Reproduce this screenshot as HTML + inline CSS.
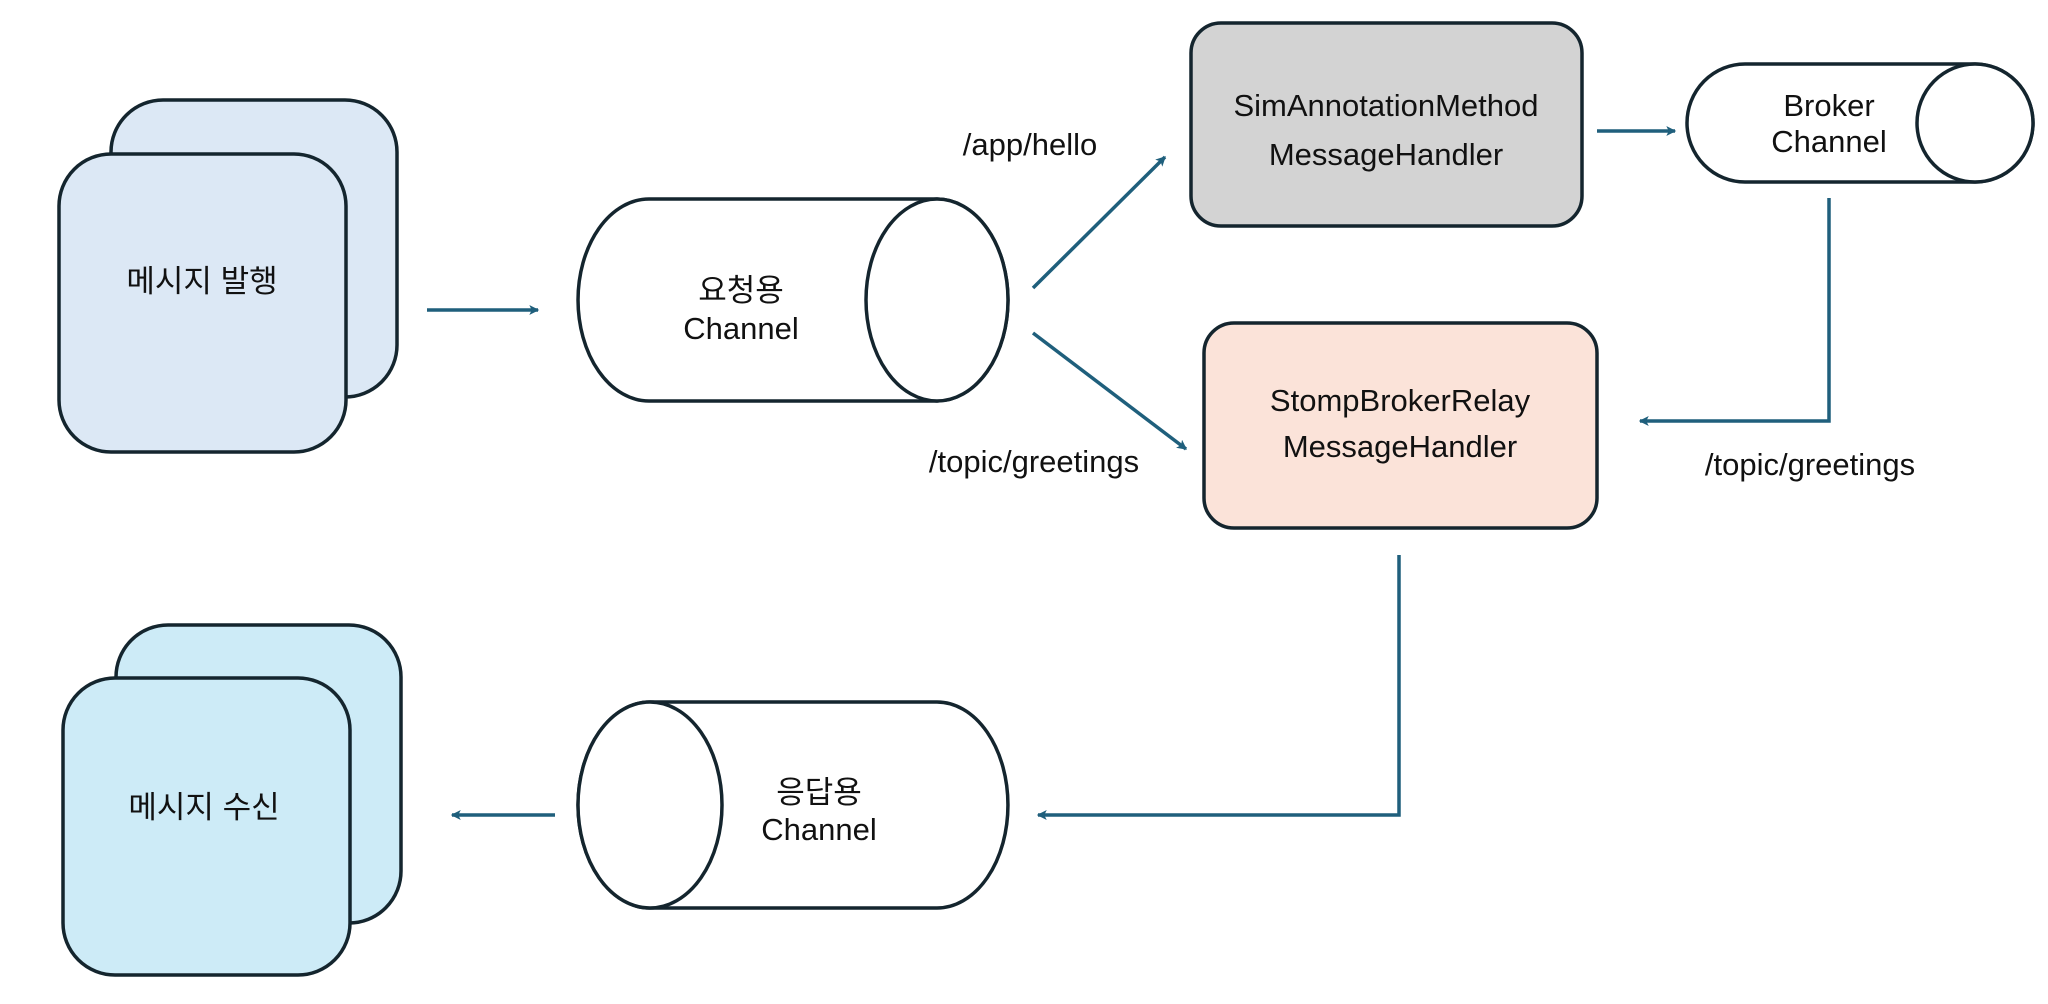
<!DOCTYPE html>
<html><head><meta charset="utf-8"><style>
html,body{margin:0;padding:0;background:#fff;}
svg{display:block;}
text{font-family:"Liberation Sans","Noto Sans CJK KR",sans-serif;font-size:31px;fill:#111;}
</style></head><body>
<svg width="2048" height="1004" viewBox="0 0 2048 1004" xmlns="http://www.w3.org/2000/svg">
<defs>
<marker id="ah" markerWidth="10" markerHeight="10" refX="7" refY="4" orient="auto" markerUnits="userSpaceOnUse" viewBox="0 0 8 8">
<path d="M0,0 L8,4 L0,8 L2,4 z" fill="#1f5f7c"/></marker>
</defs>
<g stroke="#14252e" stroke-width="3.5">
<!-- card 1 -->
<rect x="111" y="100" width="286" height="297" rx="52" fill="#dce8f5"/>
<rect x="59" y="154" width="287" height="298" rx="52" fill="#dce8f5"/>
<!-- card 2 -->
<rect x="116" y="625" width="285" height="298" rx="52" fill="#cdebf7"/>
<rect x="63" y="678" width="287" height="297" rx="52" fill="#cdebf7"/>
<!-- Sim box -->
<rect x="1191" y="23" width="391" height="203" rx="30" fill="#d3d3d3"/>
<!-- Stomp box -->
<rect x="1204" y="323" width="393" height="205" rx="30" fill="#fbe3d9"/>
<!-- cylinder 요청용 -->
<path d="M649,199 L937,199 A71,101 0 0 1 937,401 L649,401 A71,101 0 0 1 649,199 z" fill="#fff"/>
<ellipse cx="937" cy="300" rx="71" ry="101" fill="#fff"/>
<!-- Broker cylinder -->
<path d="M1745,64 L1975,64 A58,59 0 0 1 1975,182 L1745,182 A58,59 0 0 1 1745,64 z" fill="#fff"/>
<ellipse cx="1975" cy="123" rx="58" ry="59" fill="#fff"/>
<!-- cylinder 응답용 -->
<path d="M650,702 L937,702 A71,103 0 0 1 937,908 L650,908 A72,103 0 0 1 650,702 z" fill="#fff"/>
<ellipse cx="650" cy="805" rx="72" ry="103" fill="#fff"/>
</g>
<g stroke="#1f5f7c" stroke-width="3.5" fill="none" marker-end="url(#ah)">
<line x1="427" y1="310" x2="538" y2="310"/>
<line x1="1033" y1="288" x2="1165" y2="157"/>
<line x1="1033" y1="333" x2="1186" y2="449"/>
<line x1="1597" y1="131" x2="1675" y2="131"/>
<polyline points="1829,198 1829,421 1640,421"/>
<polyline points="1399,555 1399,815 1038,815"/>
<line x1="555" y1="815" x2="452" y2="815"/>
</g>
<g text-anchor="middle">
<text x="202" y="292">메시지 발행</text>
<text x="204" y="818">메시지 수신</text>
<text x="741" y="301">요청용</text>
<text x="741" y="339">Channel</text>
<text x="819" y="803">응답용</text>
<text x="819" y="840">Channel</text>
<text x="1386" y="116">SimAnnotationMethod</text>
<text x="1386" y="165">MessageHandler</text>
<text x="1400" y="411">StompBrokerRelay</text>
<text x="1400" y="457">MessageHandler</text>
<text x="1829" y="116">Broker</text>
<text x="1829" y="152">Channel</text>
<text x="1030" y="155">/app/hello</text>
<text x="1034" y="472">/topic/greetings</text>
<text x="1810" y="475">/topic/greetings</text>
</g>
</svg>
</body></html>
